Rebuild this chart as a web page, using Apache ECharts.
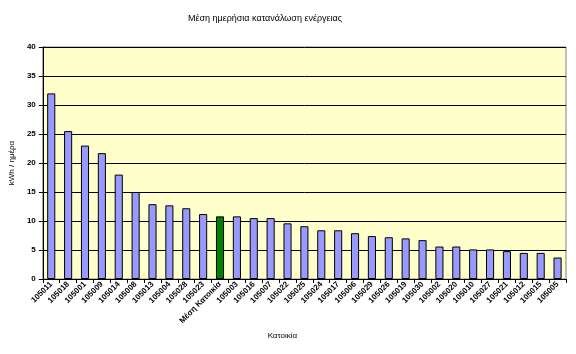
<!DOCTYPE html>
<html><head><meta charset="utf-8">
<script src="https://cdn.jsdelivr.net/npm/echarts@6/dist/echarts.min.js"></script>
<style>html,body{margin:0;padding:0;background:#fff}#c{width:576px;height:354px}</style>
</head><body><div id="c"></div>
<script>
const title = "Μέση ημερήσια κατανάλωση ενέργειας";
const xTitle = "Κατοικία";
const yTitle = "kWh / ημέρα";
const categories = ["105011","105018","105001","105009","105014","105008","105013","105004","105028","105023","Μέση Κατοικία","105003","105016","105007","105022","105025","105024","105017","105006","105029","105026","105019","105030","105002","105020","105010","105027","105021","105012","105015","105005"];
const values = [32.0,25.5,23.0,21.7,18.0,15.0,12.9,12.7,12.2,11.2,10.8,10.8,10.5,10.5,9.6,9.1,8.4,8.4,7.9,7.4,7.2,7.0,6.7,5.6,5.6,5.1,5.1,4.8,4.5,4.5,3.7];
const yTicks = [0,5,10,15,20,25,30,35,40];
const highlight = "Μέση Κατοικία";

const font = "Liberation Sans, Arial, sans-serif";
const chart = echarts.init(document.getElementById('c'), null, {renderer:'canvas'});
chart.setOption({
  animation:false,
  backgroundColor:'#fff',
  title:{text:title,left:260,textAlign:'center',top:9,textStyle:{fontFamily:font,fontSize:9,fontWeight:'normal',color:'#000'}},
  grid:{left:42,right:10,top:47,bottom:75,backgroundColor:'#FFFFCC',show:true,borderColor:'#808080',borderWidth:1},
  xAxis:{type:'category',data:categories,
    name:xTitle,nameLocation:'middle',nameGap:50,nameTextStyle:{fontFamily:font,fontSize:8,color:'#000',padding:[0,44,0,0]},
    axisLine:{lineStyle:{color:'#000',width:1}},
    axisTick:{show:true,length:4,lineStyle:{color:'#000'}},
    axisLabel:{rotate:45,interval:0,fontFamily:font,fontSize:8,fontWeight:'bold',color:'#000',margin:4}},
  yAxis:{type:'value',min:yTicks[0],max:yTicks[yTicks.length-1],interval:yTicks[1]-yTicks[0],
    name:yTitle,nameLocation:'middle',nameGap:24,nameTextStyle:{fontFamily:font,fontSize:8,color:'#000'},
    axisLine:{show:true,lineStyle:{color:'#000'}},
    axisTick:{show:true,length:4,lineStyle:{color:'#000'}},
    splitLine:{lineStyle:{color:'#000',width:1}},
    axisLabel:{fontFamily:font,fontSize:8,fontWeight:'bold',color:'#000',margin:7}},
  series:[{type:'bar',barWidth:'48%',
    data:values.map((v,i)=>({value:v,itemStyle:{color:categories[i]===highlight?'#008000':'#9999FF'}})),
    itemStyle:{borderColor:'#000',borderWidth:1}}]
});
</script></body></html>
